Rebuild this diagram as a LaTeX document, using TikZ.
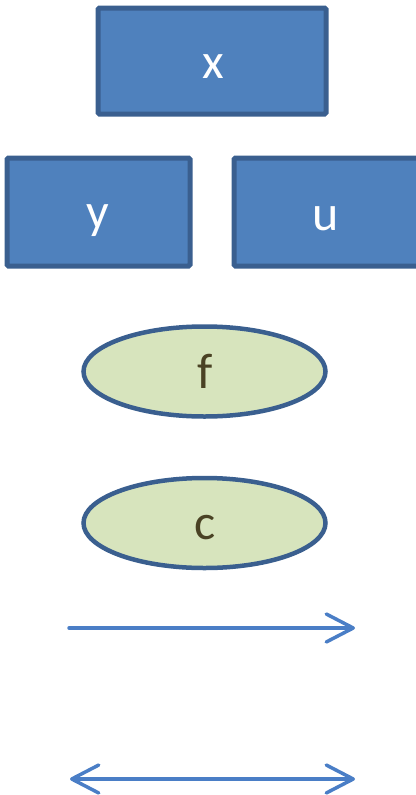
\documentclass[tikz,border=0pt]{standalone}
\usepackage{fontspec}
\setmainfont{Carlito}
\usetikzlibrary{arrows.meta,shapes.geometric}
\definecolor{boxfill}{HTML}{4F81BD}
\definecolor{boxline}{HTML}{3A5F8F}
\definecolor{ellfill}{HTML}{D7E4BD}
\definecolor{elltext}{HTML}{4A4224}
\definecolor{arrowcol}{HTML}{4A7EC6}
\begin{document}
\begin{tikzpicture}[x=1pt,y=-1pt,
  bluebox/.style={draw=boxline,fill=boxfill,line width=5pt,rounded corners=1.5pt},
  boxlabel/.style={text=white,font=\fontsize{50}{60}\selectfont,inner sep=0pt},
  greenell/.style={ellipse,draw=boxline,fill=ellfill,line width=4.5pt,inner sep=0pt,minimum width=242pt,minimum height=90pt},
  elllabel/.style={text=elltext,font=\fontsize{50}{60}\selectfont,inner sep=0pt},
  connarrow/.style={draw=arrowcol,line width=3.5pt,line cap=round}]
\useasboundingbox (0,0) rectangle (415,795);
\draw[bluebox] (98,8) rectangle (326,114);
\node[boxlabel] (x) at (213,67) {x};
\draw[bluebox] (7,158) rectangle (190,266);
\node[boxlabel] (y) at (98,221) {y};
\draw[bluebox] (234,158) rectangle (430,266);
\node[boxlabel] (u) at (326,218.5) {u};
\node[greenell] (f) at (204.5,371.5) {};
\node[elllabel] (ftext) at (205,371.5) {f};
\node[greenell] (c) at (204.5,523) {};
\node[elllabel] (ctext) at (205,528) {c};
\coordinate (a1s) at (69,628);
\coordinate (a1e) at (355,628);
\coordinate (a2s) at (70,779);
\coordinate (a2e) at (355,779);
\draw[connarrow,-{Straight Barb[length=27pt,width=28pt,line width=3.5pt,round]}] (a1s) -- (a1e);
\draw[connarrow,{Straight Barb[length=27pt,width=28pt,line width=3.5pt,round]}-{Straight Barb[length=27pt,width=28pt,line width=3.5pt,round]}] (a2s) -- (a2e);
\end{tikzpicture}
\end{document}
